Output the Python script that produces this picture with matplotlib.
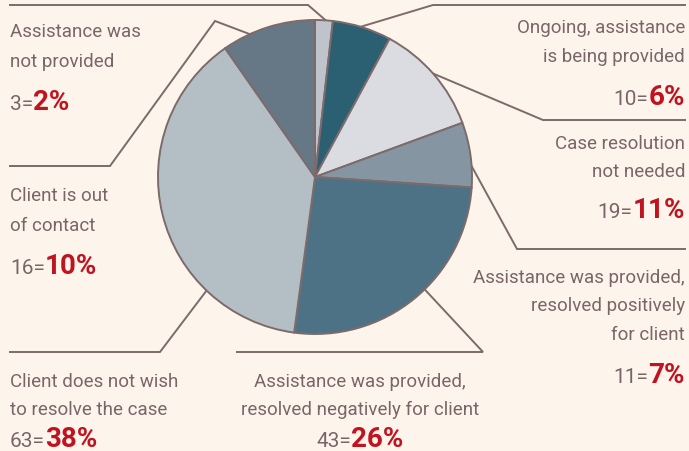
import matplotlib
matplotlib.use("Agg")
import matplotlib.pyplot as plt

# data, clockwise from 12 o'clock
categories = [
    "Assistance was\nnot provided",
    "Ongoing, assistance\nis being provided",
    "Case resolution\nnot needed",
    "Assistance was provided,\nresolved positively\nfor client",
    "Assistance was provided,\nresolved negatively for client",
    "Client does not wish\nto resolve the case",
    "Client is out\nof contact",
]
counts = [3, 10, 19, 11, 43, 63, 16]
percents = [2, 6, 11, 7, 26, 38, 10]

slice_colors = ["#bfc4cc", "#2b5f72", "#dbdce1", "#8596a2", "#4e7285", "#b4bfc5", "#667885"]
BG = "#fdf5ec"
LINE = "#7d6a6b"
TXT = "#7a6568"
RED = "#c1131f"
FONT = ["Roboto", "DejaVu Sans"]

W, H = 689, 452
def Y(y):
    return H - y

fig = plt.figure(figsize=(W / 100, H / 100), dpi=100, facecolor=BG)
ax = fig.add_axes([0, 0, 1, 1])
ax.set_facecolor(BG)

ax.pie(counts, colors=slice_colors, startangle=90, counterclock=False,
       center=(315, Y(178)), radius=157,
       wedgeprops=dict(edgecolor=LINE, linewidth=1.4, zorder=2))
ax.set_xlim(0, W)
ax.set_ylim(0, H)
ax.set_aspect("equal")
ax.axis("off")

# label layout: text anchor x, ha, baselines of the lines, baseline of count=pct,
# leader path (pixels from top-left)
layout = [
    (10, "left", [37, 67], 110, [(10, 6), (308, 6), (330, 25)]),
    (685, "right", [33, 62], 105, [(685, 6), (433, 6), (350, 31)]),
    (685, "right", [149, 177], 218, [(685, 121), (543, 121), (420, 69)]),
    (685, "right", [283, 311, 340], 383, [(685, 250), (517, 250), (465, 155)]),
    (360, "center", [387, 415], 447, [(237, 353), (483, 353), (415, 280)]),
    (10, "left", [387, 415], 447, [(10, 353), (160, 353), (210, 287)]),
    (10, "left", [201, 231], 274, [(10, 167), (110, 167), (215, 22), (260, 39)]),
]

renderer = fig.canvas.get_renderer()

def width(t):
    return t.get_window_extent(renderer=renderer).width

def count_label(x, y, n, p, ha):
    kw = dict(va="baseline", family=FONT)
    t1 = ax.text(0, Y(y), f"{n}=", color=TXT, fontsize=15, **kw)
    t2 = ax.text(0, Y(y), f"{p}%", color=RED, fontsize=20, fontweight="bold", **kw)
    w1, w2 = width(t1), width(t2)
    if ha == "left":
        left = x
    elif ha == "right":
        left = x - w1 - w2
    else:
        left = x - (w1 + w2) / 2
    t1.set_x(left)
    t2.set_x(left + w1)

for cat, n, p, (x, ha, bases, cy, path) in zip(categories, counts, percents, layout):
    for line, b in zip(cat.split("\n"), bases):
        ax.text(x, Y(b), line, ha=ha, va="baseline", color=TXT,
                fontsize=13.5, family=FONT)
    count_label(x, cy, n, p, ha)
    xs = [pt[0] for pt in path]
    ys = [Y(pt[1]) for pt in path]
    ax.plot(xs, ys, color=LINE, linewidth=1.4, zorder=1, solid_joinstyle="miter")

fig.savefig("out.png", dpi=100, facecolor=BG)
